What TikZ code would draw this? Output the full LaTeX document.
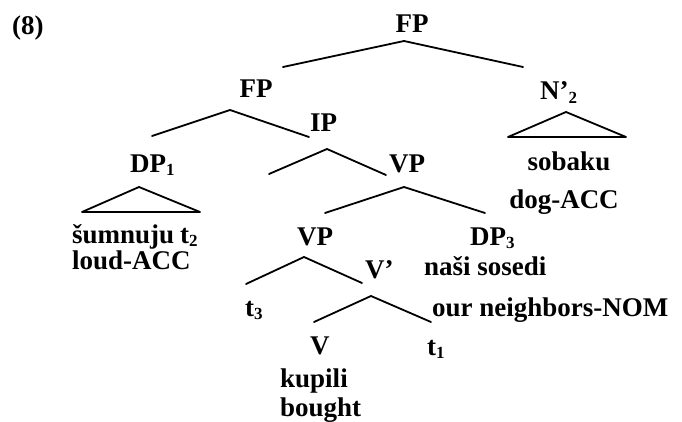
\documentclass[tikz,border=0pt]{standalone}
\usepackage{fontspec}
\setmainfont{Liberation Serif}
\newcommand\sbs[1]{\raisebox{-0.3ex}{\fontsize{17}{17}\selectfont #1}}
\begin{document}
\begin{tikzpicture}[x=1pt,y=-1pt,
  lbl/.style={anchor=base west,inner sep=0pt,font=\fontsize{27}{32}\selectfont\bfseries},
  clbl/.style={lbl,anchor=base},
  br/.style={line width=1.8pt,line cap=round,line join=round}]
\useasboundingbox (0,0) rectangle (682,422);
% labels
\node[lbl] (ex) at (12,35) {(8)};
\node[clbl] (fp1) at (412,33) {FP};
\node[clbl] (fp2) at (256,98) {FP};
\node[lbl] (n2) at (540,100) {N’\sbs{2}};
\node[lbl] (ip) at (310,132) {IP};
\node[lbl] (dp1) at (130,172) {DP\sbs{1}};
\node[lbl] (vp1) at (389,172) {VP};
\node[clbl] (sob) at (569,171) {sobaku};
\node[clbl] (dog) at (564,208) {dog-ACC};
\node[lbl] (sum) at (72,243) {šumnuju\hspace{6pt}t\sbs{2}};
\node[lbl] (vp2) at (297,245) {VP};
\node[lbl] (dp3) at (470,245) {DP\sbs{3}};
\node[lbl] (loud) at (72,269) {loud-ACC};
\node[lbl] (vbar) at (365,278) {V’};
\node[lbl] (nasi) at (424,275) {naši sosedi};
\node[lbl] (t3) at (245,316) {t\sbs{3}};
\node[lbl] (our) at (432,316) {our neighbors-NOM};
\node[lbl] (v) at (310,354) {V};
\node[lbl] (t1) at (427,355) {t\sbs{1}};
\node[lbl] (kup) at (280,387) {kupili};
\node[lbl] (bou) at (280,416) {bought};
% branch points
\coordinate (fp1a) at (404,41);  \coordinate (fp1l) at (283,67);  \coordinate (fp1r) at (523,67);
\coordinate (fp2a) at (230,110); \coordinate (fp2l) at (152,136); \coordinate (fp2r) at (309,137);
\coordinate (n2a) at (566,112);  \coordinate (n2l) at (508,137);  \coordinate (n2r) at (626,137);
\coordinate (ipa) at (327,149);  \coordinate (ipl) at (269,174);  \coordinate (ipr) at (386,175);
\coordinate (dp1a) at (139,187); \coordinate (dp1l) at (82,212);  \coordinate (dp1r) at (200,212);
\coordinate (vp1a) at (404,187); \coordinate (vp1l) at (325,213); \coordinate (vp1r) at (485,213);
\coordinate (vp2a) at (304,257); \coordinate (vp2l) at (246,284); \coordinate (vp2r) at (362,283);
\coordinate (vba) at (371,296);  \coordinate (vbl) at (314,322);  \coordinate (vbr) at (431,322);
% branches
\draw[br] (fp1l) -- (fp1a) -- (fp1r);
\draw[br] (fp2l) -- (fp2a) -- (fp2r);
\draw[br] (n2l) -- (n2a) -- (n2r) -- cycle;
\draw[br] (ipl) -- (ipa) -- (ipr);
\draw[br] (dp1l) -- (dp1a) -- (dp1r) -- cycle;
\draw[br] (vp1l) -- (vp1a) -- (vp1r);
\draw[br] (vp2l) -- (vp2a) -- (vp2r);
\draw[br] (vbl) -- (vba) -- (vbr);
\end{tikzpicture}
\end{document}
